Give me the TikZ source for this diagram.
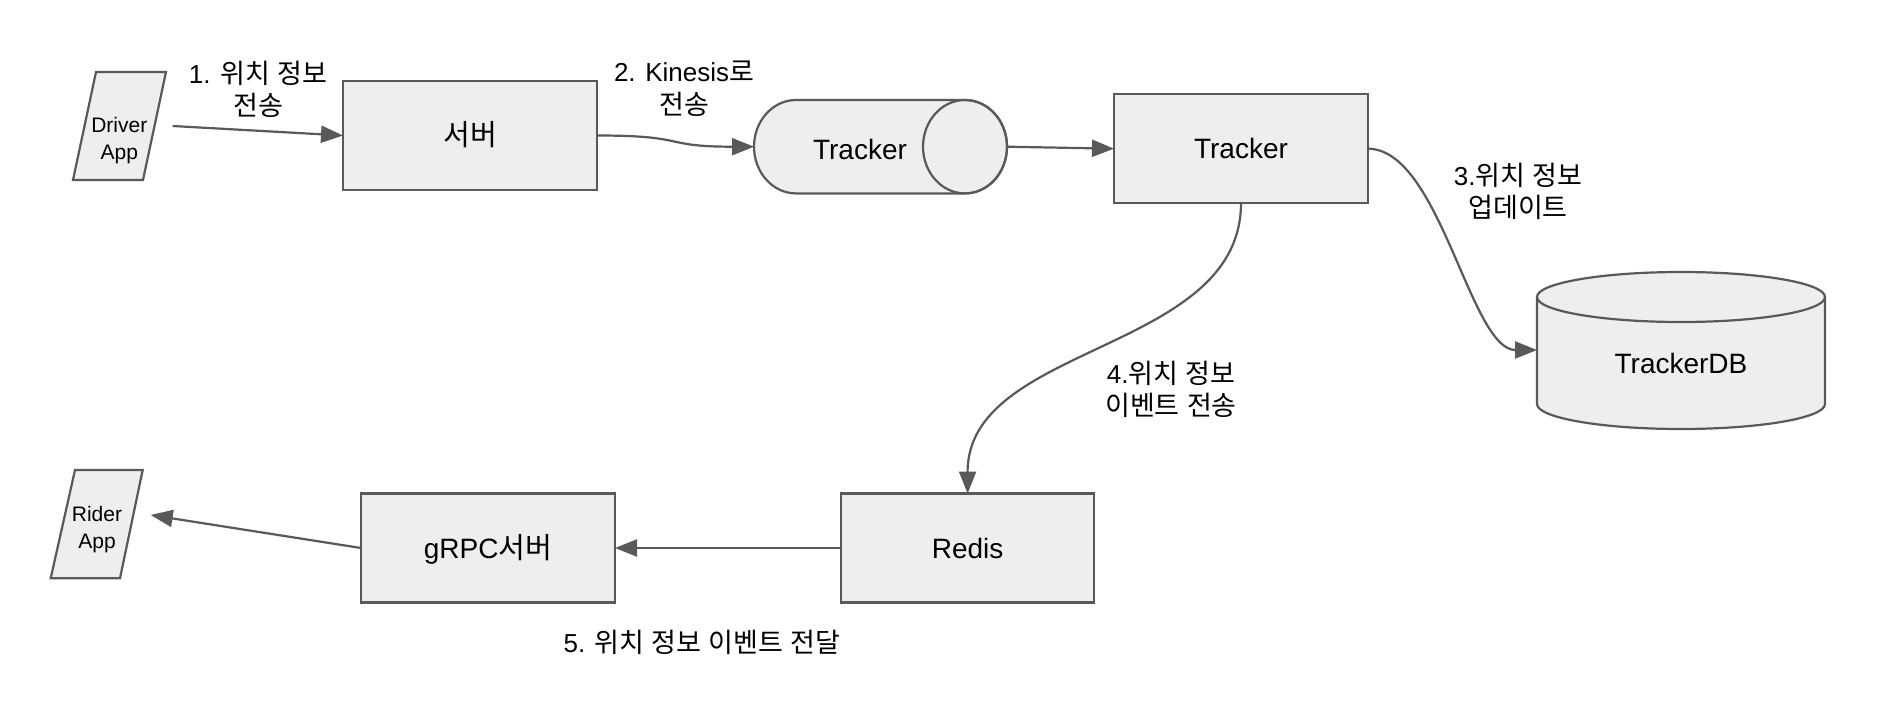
\documentclass[tikz,border=0pt]{standalone}
\usepackage{fontspec}
\setmainfont{Liberation Sans}
\newfontfamily\kr{Noto Sans CJK KR}[Scale=1.04]
\usetikzlibrary{arrows.meta}
\definecolor{edge}{HTML}{595959}
\definecolor{boxfill}{HTML}{EEEEEE}
\newcommand\twol[2]{\vtop{\lineskiplimit=-100pt\halign{\hfil##\hfil\cr#1\cr#2\cr}}}
\begin{document}
\begin{tikzpicture}[x=1pt,y=-1pt,
  box/.style={draw=edge, fill=boxfill, line width=2.2pt, minimum width=254pt, minimum height=109pt,
    inner sep=0pt, outer sep=0pt, font=\fontsize{28pt}{33pt}\selectfont, text height=20pt, text depth=0pt},
  shp/.style={draw=edge, fill=boxfill, line width=2.2pt, line join=miter},
  anchorbox/.style={inner sep=0pt, outer sep=0pt},
  nodetext/.style={anchor=base, inner sep=0pt, font=\fontsize{28pt}{33pt}\selectfont},
  apptext/.style={anchor=base, inner sep=0pt, font=\fontsize{21pt}{26.5pt}\selectfont},
  lbl/.style={anchor=base, inner sep=0pt, font=\fontsize{26pt}{32.5pt}\selectfont},
  conn/.style={draw=edge, line width=2.2pt, -{Triangle[length=22pt,width=17pt]}}
]
\useasboundingbox (0,0) rectangle (1890,712);
\fill[white] (0,0) rectangle (1890,712);

% Driver App
\path[shp] (96,72) -- (166,72) -- (143,180) -- (73,180) -- cycle;
\node[anchorbox, minimum width=93pt, minimum height=108pt] (drv) at (119.5,126) {};
\node[apptext] (drvtxt) at (119.3,132.7) {\twol{Driver}{App}};

% Rider App
\path[shp] (75,470) -- (142.7,470) -- (120,578.3) -- (50.7,578.3) -- cycle;
\node[anchorbox, minimum width=92pt, minimum height=108pt] (rdr) at (96.7,524.2) {};
\node[apptext] (rdrtxt) at (97,521.7) {\twol{Rider}{App}};

% boxes
\node[box] (srv) at (470,135.5) {{\kr 서버}};
\node[box] (trk) at (1241,148.7) {Tracker};
\node[box] (grpc) at (488,548) {gRPC{\kr 서버}};
\node[box, minimum width=253.3pt] (rds) at (967.6,548) {Redis};

% Kinesis stream (horizontal cylinder)
\path[shp] (965,100) -- (796,100) arc[start angle=270, end angle=90, x radius=42, y radius=46.7]
  -- (965,193.4) arc[start angle=90, end angle=-90, x radius=42, y radius=46.7] -- cycle;
\draw[draw=edge, line width=2.2pt] (965,146.7) ellipse[x radius=42, y radius=46.7];
\node[anchorbox, minimum width=253pt, minimum height=93.4pt] (kin) at (880.5,146.7) {};
\node[nodetext] (kintxt) at (860,159.8) {Tracker};

% TrackerDB (vertical cylinder)
\path[shp] (1537,297) -- (1537,404) arc[start angle=180, end angle=0, x radius=144, y radius=25]
  -- (1825,297) arc[start angle=0, end angle=-180, x radius=144, y radius=25] -- cycle;
\draw[draw=edge, line width=2.2pt] (1537,297) arc[start angle=180, end angle=0, x radius=144, y radius=25];
\node[anchorbox, minimum width=288pt, minimum height=158pt] (db) at (1681,350) {};
\node[nodetext] (dbtxt) at (1681,373) {TrackerDB};

% labels
\node[lbl] (l1) at (258,83.3) {\twol{1. {\kr 위치} {\kr 정보}}{{\kr 전송}}};
\node[lbl] (l2) at (684,81.7) {\twol{2. Kinesis{\kr 로}}{{\kr 전송}}};
\node[lbl] (l3) at (1518,185) {\twol{3.{\kr 위치} {\kr 정보}}{{\kr 업데이트}}};
\node[lbl] (l4) at (1171,383.3) {\twol{4.{\kr 위치} {\kr 정보}}{{\kr 이벤트} {\kr 전송}}};
\node[lbl] (l5) at (702,652.7) {5. {\kr 위치} {\kr 정보} {\kr 이벤트} {\kr 전달}};

% connectors
\coordinate (a1s) at (172.7,126);
\coordinate (a7e) at (150.7,515);
\draw[conn] (a1s) -- (srv.west);
\draw[conn] (srv.east) .. controls (690,135.5) and (660,146.7) .. (kin.west);
\draw[conn] (kin.east) -- (trk.west);
\draw[conn] (trk.east) .. controls (1440,149) and (1470,350) .. (db.west);
\draw[conn] (trk.south) .. controls (1240.7,353) and (967.5,343) .. (rds.north);
\draw[conn] (rds.west) -- (grpc.east);
\draw[conn] (grpc.west) -- (a7e);
\end{tikzpicture}
\end{document}
